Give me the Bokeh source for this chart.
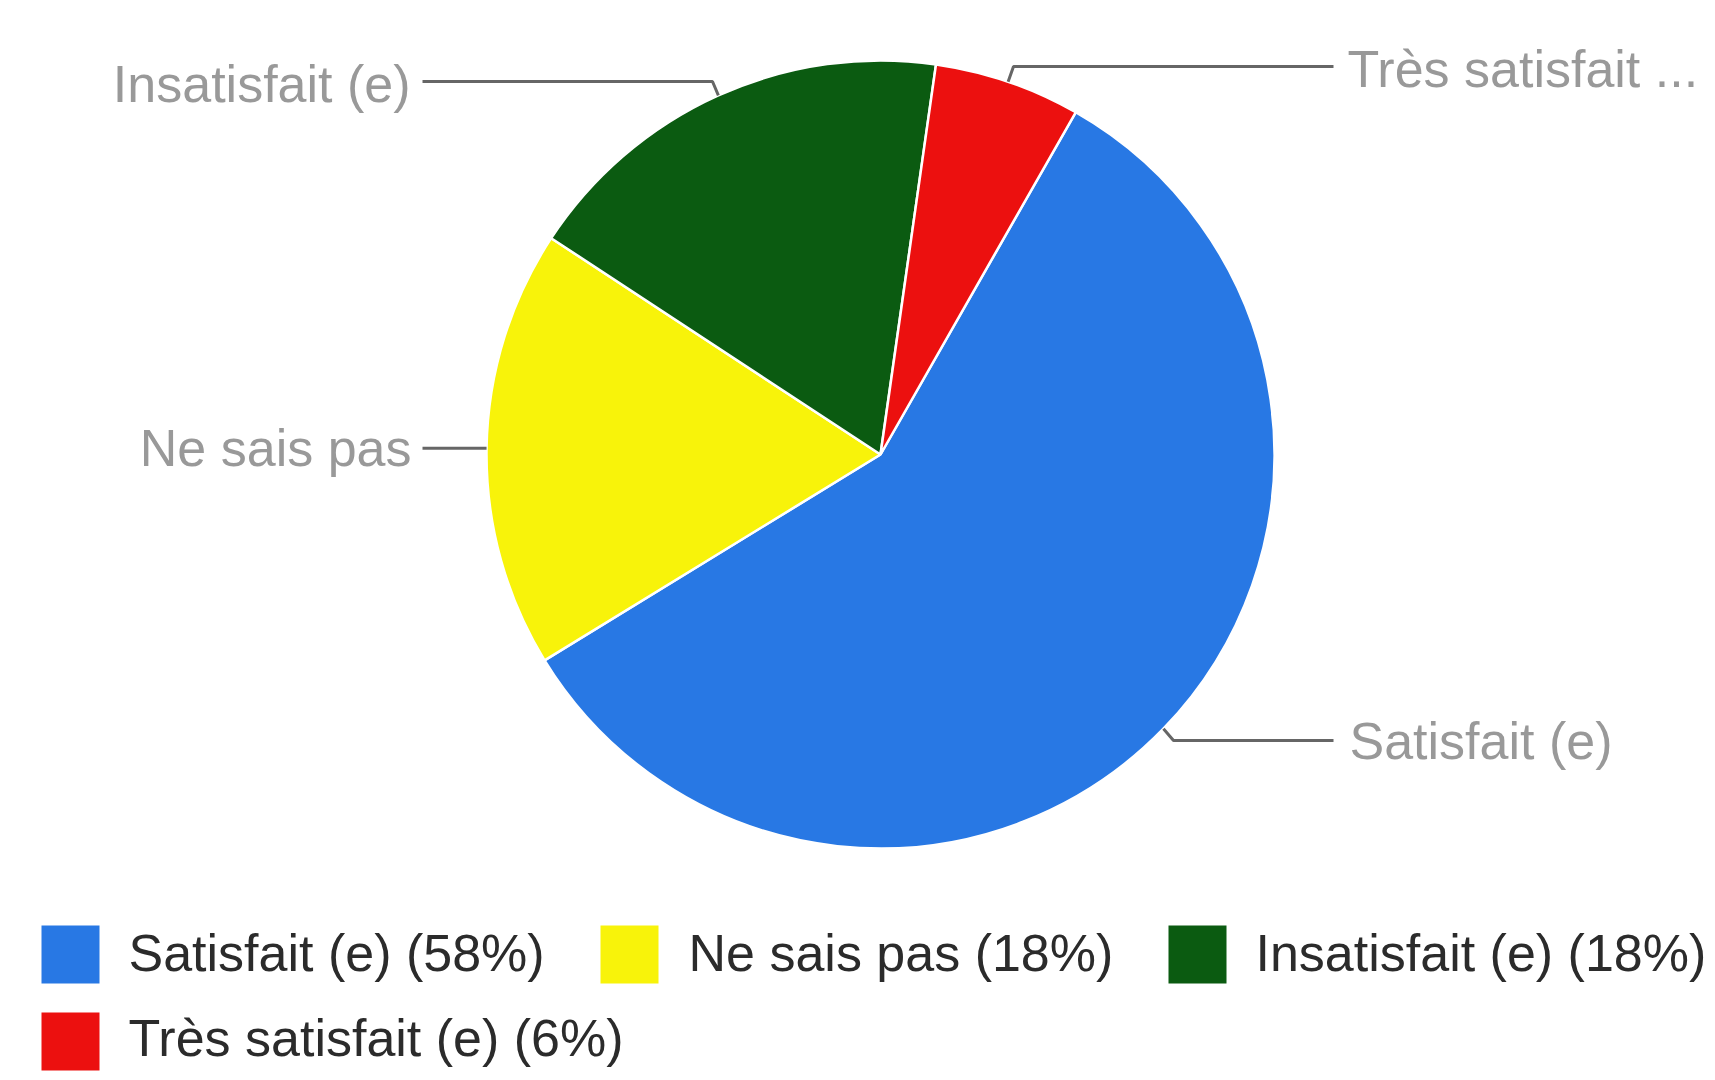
import math
from bokeh.plotting import figure
from bokeh.models import Range1d, ColumnDataSource
from bokeh.core.properties import value
from bokeh.embed import file_html
from bokeh.resources import INLINE

# ---- data ----
categories = ["Satisfait (e)", "Ne sais pas", "Insatisfait (e)", "Très satisfait (e)"]
percentages = [58, 18, 18, 6]
pie_labels = ["Satisfait (e)", "Ne sais pas", "Insatisfait (e)", "Très satisfait ..."]
colors = ["#2878e4", "#f8f30a", "#0b5b11", "#ec100f"]

# ---- layout (page pixel coordinates) ----
W, H = 1712, 1078
M = 0
TEXT_DY = -20  # compensation for text baseline placement


def X(px):
    return px - M


def Y(py):
    return H + M - py


CX, CY, R = 880, 454, 394
START_DEG = 29.7  # clockwise from 12 o'clock

# label layout: elbow point, line end x, text x, align, baseline y
label_layout = [
    dict(elbow=(1173, 740), end_x=1333, text_x=1349, align="left", base=760),
    dict(elbow=None, end_x=422, text_x=411, align="right", base=467),
    dict(elbow=(712, 81), end_x=422, text_x=410, align="right", base=103),
    dict(elbow=(1013, 66), end_x=1333, text_x=1347, align="left", base=88),
]

legend_layout = [
    dict(sq_x=41, row_c=954, text_x=128, base=972),
    dict(sq_x=600, row_c=954, text_x=688, base=972),
    dict(sq_x=1168, row_c=954, text_x=1255, base=972),
    dict(sq_x=41, row_c=1041, text_x=128, base=1057),
]
SQ = 58
FONT = value("Liberation Sans")

# ---- angles ----
total = sum(percentages)
starts, ends, mids = [], [], []
acc = START_DEG
for v in percentages:
    span = 360.0 * v / total
    starts.append(acc)
    ends.append(acc + span)
    mids.append(acc + span / 2)
    acc += span

p = figure(width=W, height=H, x_range=Range1d(0, W), y_range=Range1d(0, H),
           output_backend="svg", toolbar_location=None,
           x_axis_type=None, y_axis_type=None, min_border=0,
           outline_line_color=None, background_fill_color="white",
           border_fill_color="white")
p.grid.visible = False

wsrc = ColumnDataSource(dict(
    start=[math.radians(90 - e) for e in ends],
    end=[math.radians(90 - s) for s in starts],
    color=colors,
))
p.wedge(x=X(CX), y=Y(CY), radius=R, start_angle="start", end_angle="end",
        fill_color="color", line_color="white", line_width=2.5, source=wsrc)

# leader lines
xs, ys = [], []
tx, ty, al = [], [], []
for i, lay in enumerate(label_layout):
    a = math.radians(mids[i])
    ax = CX + R * math.sin(a)
    ay = CY - R * math.cos(a)
    if lay["elbow"] is None:
        px = [ax, lay["end_x"]]
        py = [ay, ay]
    else:
        ex, ey = lay["elbow"]
        px = [ax, ex, lay["end_x"]]
        py = [ay, ey, ey]
    xs.append([X(v) for v in px])
    ys.append([Y(v) for v in py])
    tx.append(X(lay["text_x"]))
    ty.append(Y(lay["base"] + TEXT_DY))
    al.append(lay["align"])

p.multi_line(xs=xs, ys=ys, line_color="#666666", line_width=3)

lsrc = ColumnDataSource(dict(x=tx, y=ty, text=pie_labels, align=al))
p.text(x="x", y="y", text="text", text_align="align", text_baseline="alphabetic",
       text_font=FONT, text_font_size="52px", text_color="#999999", source=lsrc)

# legend
leg_text = [f"{c} ({v}%)" for c, v in zip(categories, percentages)]
gsrc = ColumnDataSource(dict(
    x=[X(l["sq_x"] + SQ / 2) for l in legend_layout],
    y=[Y(l["row_c"]) for l in legend_layout],
    color=colors,
))
p.rect(x="x", y="y", width=SQ, height=SQ, fill_color="color", line_color=None, source=gsrc)

gtsrc = ColumnDataSource(dict(
    x=[X(l["text_x"]) for l in legend_layout],
    y=[Y(l["base"] + TEXT_DY) for l in legend_layout],
    text=leg_text,
))
p.text(x="x", y="y", text="text", text_align="left", text_baseline="alphabetic",
       text_font=FONT, text_font_size="52px", text_color="#2b2b2b", source=gtsrc)

open("out.html", "w").write(file_html(p, INLINE))
